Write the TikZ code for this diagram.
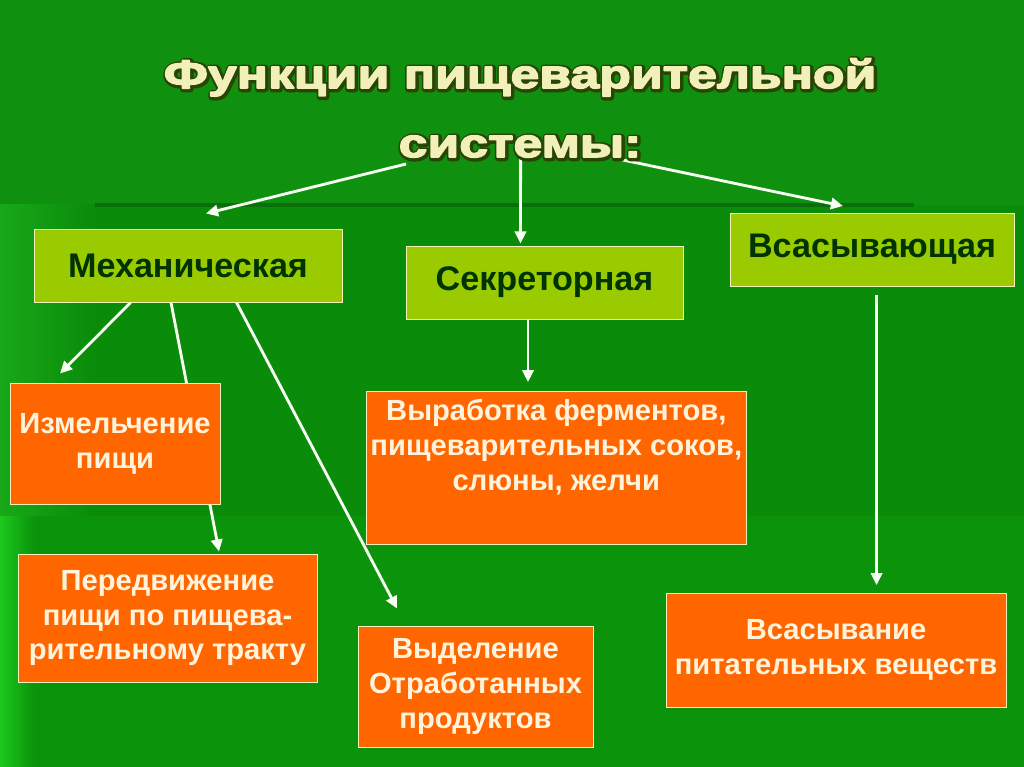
\documentclass[tikz,border=0pt]{standalone}
\usepackage{fontspec}
\setmainfont{Liberation Sans}
\newfontfamily\ttlfont[FakeStretch=1.3]{Liberation Sans}
\usetikzlibrary{arrows.meta,calc}
\pgfdeclarelayer{bg}
\pgfdeclarelayer{links}
\pgfsetlayers{bg,links,main}
\newcommand\pxu{0.703125pt}
% title text with its glyphs stroked: #1 stroke colour, #2 stroke width
\newcommand\ttlstroke[3]{\special{pdf:literal direct #1 RG #2 w 1 j 2 Tr}#3\special{pdf:literal direct 0 Tr}}
\definecolor{bgbase}{HTML}{0F900F}
\definecolor{bgpanel}{HTML}{0A8B0A}
\definecolor{bgbright}{HTML}{18A818}
\definecolor{bgpanel2}{HTML}{0B930B}
\definecolor{bgbright2}{HTML}{1CC81C}
\definecolor{bgline}{HTML}{0A6E0A}
\definecolor{fboxfill}{HTML}{9ACA00}
\definecolor{fboxtext}{HTML}{003300}
\definecolor{oboxfill}{HTML}{FF6600}
\definecolor{oboxtext}{HTML}{FFF3DC}
\definecolor{boxedge}{HTML}{F2F2B8}
\definecolor{arrowwhite}{HTML}{F6FFF2}
\definecolor{ttlfill}{HTML}{F0F0B8}
\definecolor{ttledge}{HTML}{294505}

\begin{document}
\begin{tikzpicture}[
  x=\pxu,
  y=-\pxu,
  fbox/.style={
    draw=boxedge,
    line width=0.7pt,
    fill=fboxfill,
    text=fboxtext,
    inner sep=0pt,
    font=\fontsize{24}{28}\selectfont\bfseries
  },
  obox/.style={
    draw=boxedge,
    line width=0.7pt,
    fill=oboxfill,
    text=oboxtext,
    align=center,
    inner sep=0pt,
    font=\fontsize{20.5}{24.5}\selectfont\bfseries
  },
  flow/.style={
    -{Triangle[length=8.5pt,width=8pt]},
    line width=2pt,
    draw=arrowwhite
  },
  ttl/.style={
    anchor=base,
    inner sep=0pt,
    font=\ttlfont\bfseries\fontsize{28}{30}\selectfont
  }
]
\useasboundingbox (0,0) rectangle (1024,767);

% Slide background
\begin{pgfonlayer}{bg}
  \fill[bgbase] (0,0) rectangle (1024,767);
  \fill[left color=bgbright,right color=bgpanel] (0,205) rectangle (95,767);
  \fill[bgpanel] (95,205) rectangle (1024,767);
  \fill[left color=bgbright2,right color=bgpanel2] (0,516) rectangle (34,767);
  \fill[bgpanel2] (34,516) rectangle (1024,767);
  \draw[bgline,line width=2.5pt] (95,205) -- (914,205);
\end{pgfonlayer}

% Title: dark rim under pale letters
\node[ttl,text=ttledge] (titlerim) at (521,89) {\ttlstroke{0.16 0.27 0.02}{4.6}{Функции пищеварительной}};
\node[ttl,text=ttledge] (title2rim) at (521,158) {\ttlstroke{0.16 0.27 0.02}{4.6}{системы:}};
\node[ttl,text=ttlfill] (title) at (520,88) {\ttlstroke{0.94 0.94 0.72}{1.1}{Функции пищеварительной}};
\node[ttl,text=ttlfill] (title2) at (520,157) {\ttlstroke{0.94 0.94 0.72}{1.1}{системы:}};

\coordinate (tl) at (406,164);
\coordinate (tm) at (520.6,157.5);
\coordinate (tr) at (611,157.5);

% Function types
\node[fbox,minimum width=308*\pxu,minimum height=73*\pxu] (mech) at (188,265.5) {Механическая};
\node[fbox,minimum width=277*\pxu,minimum height=73*\pxu] (secr) at (544.5,282.5) {Секреторная};
\node[fbox,minimum width=284*\pxu,minimum height=73*\pxu] (vsas) at (872,249.5) {Всасывающая};

% What each one does
\node[obox,minimum width=210*\pxu,minimum height=120.5*\pxu] (izm) at (115,443.75) {
  Измельчение\\
  пищи
};
\node[obox,minimum width=299*\pxu,minimum height=128*\pxu] (pered) at (167.5,618) {
  Передвижение\\
  пищи по пищева-\\
  рительному тракту
};
\node[obox,minimum width=380.6*\pxu,minimum height=153.5*\pxu] (vyrab) at (556.3,467.75) {
  Выработка ферментов,\\
  пищеварительных соков,\\
  слюны, желчи\\
  \strut
};
\node[obox,minimum width=235*\pxu,minimum height=121.5*\pxu] (vydel) at (475.5,686.75) {
  Выделение\\
  Отработанных\\
  продуктов
};
\node[obox,minimum width=340*\pxu,minimum height=114*\pxu] (vsasyv) at (836,650) {
  Всасывание\\
  питательных веществ
};

% Arrows
\begin{pgfonlayer}{links}
  \draw[flow] (tl) -- ($(mech.north)+(18,-15)$);
  \draw[flow] (tm) -- ($(secr.north)+(-24,-2)$);
  \draw[flow] (tr) -- ($(vsas.north)+(-29,-6.5)$);

  \draw[flow] ($(mech.south)+(-57.4,0)$) -- ($(izm.north)+(-55,-9.5)$);
  \draw[flow] ($(mech.south)+(-17,0)$) -- ($(pered.north)+(51.5,-2)$);
  \draw[flow] ($(mech.south)+(48.5,0)$) -- ($(vydel.north)+(-78.5,-17)$);

  \draw[flow] ($(secr.south)+(-16.5,0)$) -- ($(vyrab.north)+(-28.3,-8.4)$);
  \draw[flow,line width=1.6pt] ($(vsas.south)+(4.6,8.5)$) -- ($(vsasyv.north)+(40.6,-7.4)$);
\end{pgfonlayer}

\end{tikzpicture}
\end{document}
